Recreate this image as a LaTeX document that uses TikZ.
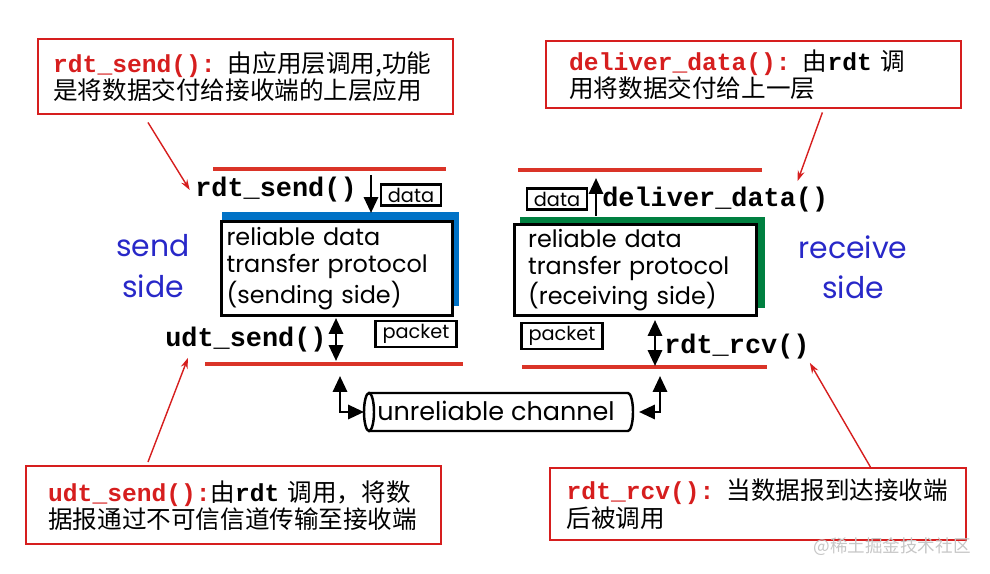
\documentclass[tikz,border=0pt]{standalone}
\usepackage{fontspec}
\setmainfont{Liberation Sans}
\setmonofont{Liberation Mono}
\newfontfamily\cjk{Noto Sans CJK SC}
\newfontfamily\geo{Poppins}
\usetikzlibrary{positioning, arrows.meta}
\definecolor{notered}{RGB}{214,30,30}
\definecolor{layerred}{RGB}{218,52,40}
\definecolor{sndblue}{RGB}{0,114,198}
\definecolor{rcvgreen}{RGB}{0,128,64}
\definecolor{sideblue}{RGB}{40,40,200}
\tikzset{
  note/.style={draw=notered, line width=1.4pt, anchor=north west, align=left,
    font=\cjk\fontsize{14}{15.4}\selectfont, minimum width=8.3cm},
  fn/.style={font=\ttfamily\bfseries\fontsize{15.3}{18}\selectfont, inner sep=0pt},
  tag/.style={draw, line width=1.5pt, font=\geo\fontsize{11}{13}\selectfont,
    inner xsep=4pt, inner ysep=2pt},
  proto/.style={draw, line width=1.8pt, fill=white, align=left, anchor=north west,
    font=\geo\fontsize{13.6}{15.5}\selectfont, inner ysep=0pt},
  side/.style={sideblue, font=\geo\fontsize{17}{20}\selectfont},
  layer/.style={layerred, line width=2.2pt},
  arr/.style={line width=1.5pt, -{Triangle[length=9pt,width=8pt]}},
  arrb/.style={line width=1.5pt, {Triangle[length=9pt,width=8pt]}-{Triangle[length=9pt,width=8pt]}},
  ptr/.style={notered, line width=0.8pt, -{Stealth[length=6pt,width=4pt]}}
}
\newcommand{\fnred}[1]{\textcolor{notered}{\ttfamily\bfseries #1}}
\newcommand{\fnblk}[1]{{\ttfamily\bfseries #1}}

\begin{document}
\begin{tikzpicture}[x=0.02cm, y=-0.02cm]
  \useasboundingbox (0,0) rectangle (990,574);

  % notes
  \node[note, minimum height=1.5cm, text width=7.7cm, inner xsep=0.3cm] (sendnote) at (37,38)
    {\fnred{rdt\_send():} 由应用层调用,功能\\是将数据交付给接收端的上层应用};
  \node[note, minimum height=1.34cm, text width=7.38cm, inner xsep=0.46cm] (delnote) at (545,40)
    {\fnred{deliver\_data():} 由\fnblk{rdt} 调\\用将数据交付给上一层};
  \node[note, minimum height=1.56cm, text width=7.42cm, inner xsep=0.44cm] (udtnote) at (25,465)
    {\fnred{udt\_send():}由\fnblk{rdt} 调用，将数\\据报通过不可信信道传输至接收端};
  \node[note, minimum height=1.44cm, text width=7.66cm, inner xsep=0.33cm] (rcvnote) at (549,467)
    {\fnred{rdt\_rcv():} 当数据报到达接收端\\后被调用};

  % sending side
  \draw[layer] (213,169) -- (446,169);
  \draw[layer] (205,364) -- (463,364);
  \node[fn] (rsend) at (276,190) {rdt\_send()};
  \node[tag] (sdata) at (411,195) {data};
  \fill[sndblue] (222,212) rectangle (459,306);
  \node[proto, minimum width=4.62cm, minimum height=1.88cm, text width=4.42cm,
    inner xsep=0.1cm] (sproto) at (220,220)
    {reliable data\\transfer protocol\\(sending side)};
  \node[tag] (spkt) at (416,334) {packet};
  \node[fn, anchor=east] (usend) at (327,340) {udt\_send()};
  \node[side] (sendw) at (153,246) {send};
  \node[side] (sidew1) at (153,286) {side};
  \coordinate (sa) at (371,175);
  \draw[arr] (sa) -- (371,213);
  \coordinate (ua) at (336,318);
  \draw[arrb] (ua) -- (336,361);

  % receiving side
  \draw[layer] (518,170) -- (762,170);
  \draw[layer] (522,367) -- (767,367);
  \node[tag] (rdata) at (557,199) {data};
  \node[fn, anchor=west] (ddata) at (602,200) {deliver\_data()};
  \fill[rcvgreen] (520,217) rectangle (765,308);
  \node[proto, minimum width=4.84cm, minimum height=1.82cm, text width=4.3cm,
    inner xsep=0.27cm] (rproto) at (513,223)
    {reliable data\\transfer protocol\\(receiving side)};
  \node[tag] (rpkt) at (562,336) {packet};
  \node[fn, anchor=west] (rrcv) at (664,347) {rdt\_rcv()};
  \node[side] (recvw) at (853,247) {receive};
  \node[side] (sidew2) at (853,287) {side};
  \coordinate (da) at (596,216);
  \draw[arr] (da) -- (596,178);
  \coordinate (ra) at (655,320);
  \draw[arrb] (ra) -- (655,366);

  % channel
  \node[font=\geo\fontsize{14.5}{16}\selectfont] (chan) at (496,411) {unreliable channel};
  \draw[line width=1.4pt] (369,393) -- (628,393)
    arc[start angle=90, end angle=-90, x radius=0.1cm, y radius=0.38cm] -- (369,431);
  \draw[line width=1.4pt] (369,412) ellipse[x radius=0.1cm, y radius=0.38cm];
  \coordinate (chanL) at (364,412);
  \coordinate (chanR) at (639,412);
  \draw[arrb] (340,376) |- (chanL);
  \draw[arrb] (660,376) |- (chanR);

  % pointers
  \draw[ptr] ([shift={(2.22cm,-0.14cm)}]sendnote.south west) -- ([xshift=-3pt]rsend.west);
  \draw[ptr] ([shift={(-2.8cm,-0.06cm)}]delnote.south east) -- ([shift={(-0.62cm,0.12cm)}]ddata.north east);
  \draw[ptr] ([shift={(2.46cm,0.06cm)}]udtnote.north west) -- ([shift={(0.46cm,-0.1cm)}]usend.south west);
  \draw[ptr] ([xshift=-1.94cm]rcvnote.north east) -- ([yshift=-0.06cm]rrcv.south east);

  \node[gray!45, font=\cjk\fontsize{10}{12}\selectfont] (mark) at (892,547) {@稀土掘金技术社区};
\end{tikzpicture}
\end{document}
